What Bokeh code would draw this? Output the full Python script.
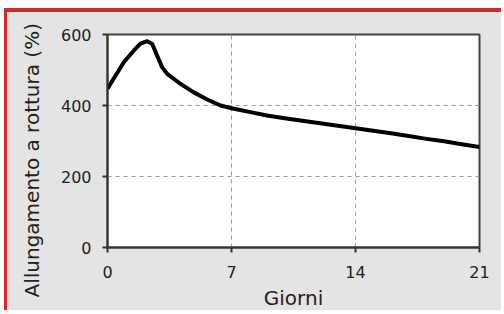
from bokeh.plotting import figure
from bokeh.models import FixedTicker, Range1d, Title
from bokeh.embed import file_html
from bokeh.resources import INLINE

days = [0, 0.45, 0.92, 1.49, 1.86, 2.24, 2.52, 2.8, 3.08, 3.37, 4.12, 4.87, 5.63,
        6.38, 7.13, 8, 9, 10, 11, 12, 13, 14, 15, 16, 17, 18, 19, 20, 21]
elongation = [447, 484, 522, 555, 574, 581, 574, 541, 508, 489, 461, 437, 417,
              400, 391, 382, 372, 364, 357, 350, 343, 336, 329, 322, 314, 306, 299, 291, 283]
x_ticks = [0, 7, 14, 21]
y_ticks = [0, 200, 400, 600]

FONT = "DejaVu Sans"
W, H = 497, 302

p = figure(width=W, height=H, output_backend="svg", toolbar_location=None,
           x_range=Range1d(0, 21), y_range=Range1d(0, 600),
           min_border_left=100, min_border_right=25, min_border_top=22, min_border_bottom=67)
p.styles = {"margin-left": "4px", "margin-top": "8px",
            "border-left": "3px solid #e02424", "border-top": "4px solid #e02424"}

p.background_fill_color = "white"
p.border_fill_color = "#e4e4e4"
p.outline_line_color = "#444444"
p.outline_line_width = 2

p.line(days, elongation, line_color="black", line_width=4, line_join="round")

for ax, ticks in ((p.xaxis, x_ticks), (p.yaxis, y_ticks)):
    ax.ticker = FixedTicker(ticks=ticks)
    ax.axis_line_color = "#333333"
    ax.axis_line_width = 2
    ax.major_tick_line_color = "#333333"
    ax.major_tick_line_width = 2
    ax.major_tick_out = 5
    ax.major_tick_in = 0
    ax.minor_tick_line_color = None
    ax.major_label_text_font = FONT
    ax.major_label_text_font_size = "16px"
    ax.major_label_text_color = "#222222"
    ax.axis_label_text_font = FONT
    ax.axis_label_text_font_size = "20px"
    ax.axis_label_text_font_style = "normal"
    ax.axis_label_text_color = "#222222"

p.xaxis.axis_label = "Giorni"
p.xaxis.major_label_standoff = 13
p.xaxis.axis_label_standoff = 5
p.yaxis.major_label_standoff = 11

ytitle = Title(text="Allungamento a rottura (%)", align="left", offset=-50,
               vertical_align="top",
               text_font=FONT, text_font_size="20px", text_font_style="normal",
               text_color="#222222", standoff=23)
p.add_layout(ytitle, "left")

for g in (p.xgrid, p.ygrid):
    g.grid_line_color = "#999999"
    g.grid_line_dash = "4 4"
    g.grid_line_width = 1
p.xgrid.ticker = FixedTicker(ticks=x_ticks)
p.ygrid.ticker = FixedTicker(ticks=y_ticks)

open("out.html", "w").write(file_html(p, INLINE))
